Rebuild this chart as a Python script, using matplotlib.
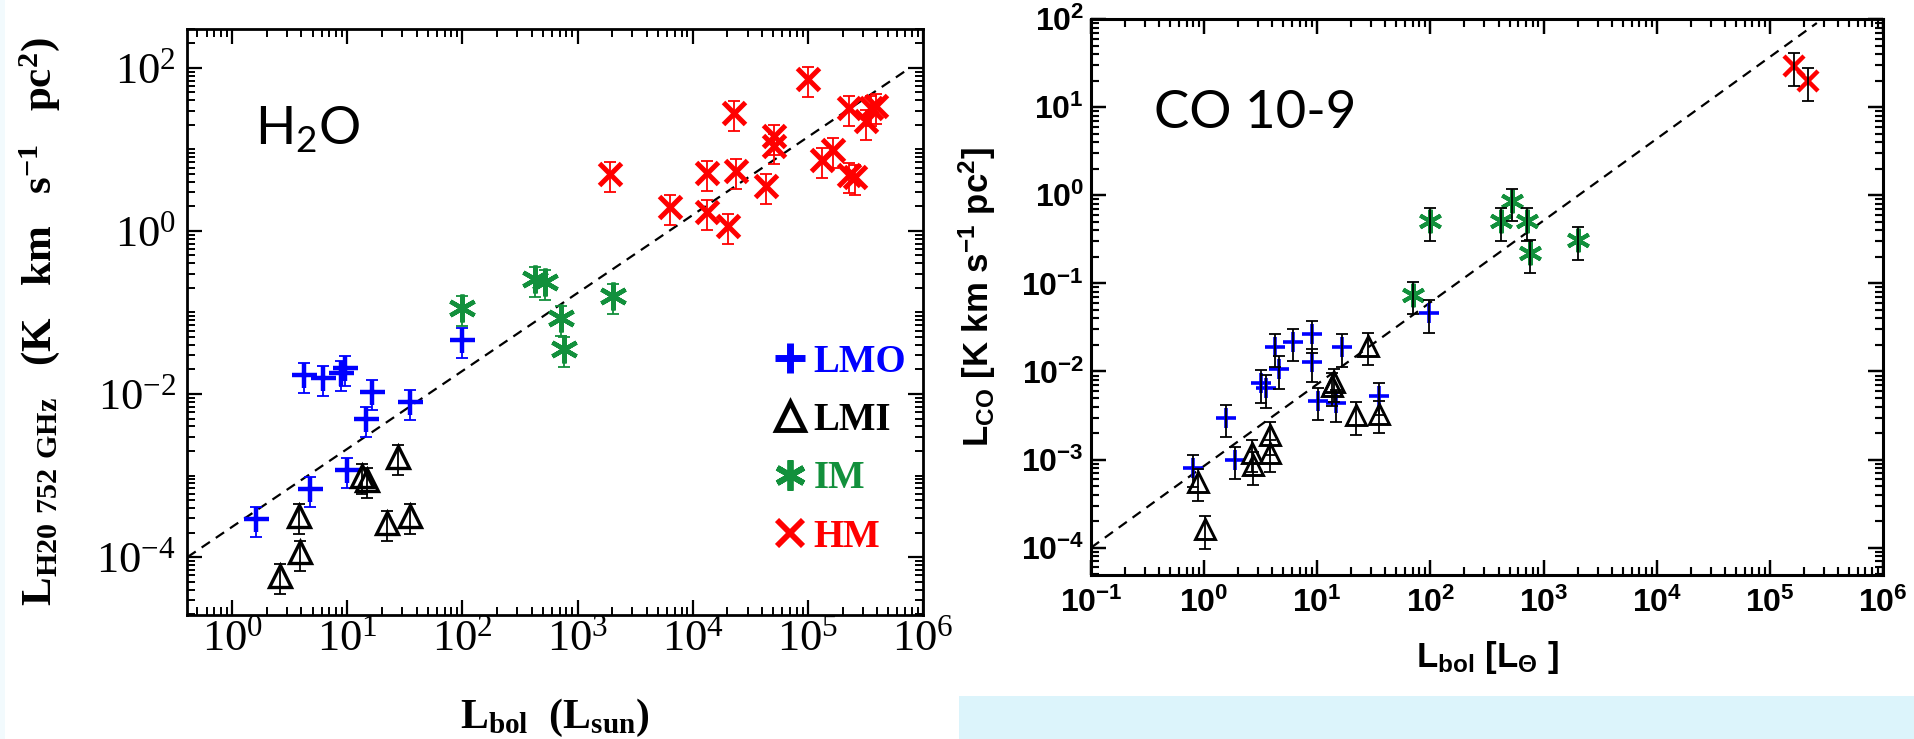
import numpy as np
import matplotlib.pyplot as plt
from matplotlib.lines import Line2D
from matplotlib.patches import Rectangle
from matplotlib.ticker import LogLocator, NullFormatter

plt.rcParams['mathtext.default'] = 'regular'

# H2O 752 GHz luminosity vs Lbol
h2o_lmo_lbol = [1.6, 4.75, 4.2, 6.2, 8.8, 9.5, 16.4, 14.5, 35, 10, 100]
h2o_lmo_lum = [2.9e-4, 6.9e-4, 0.017, 0.0157, 0.018, 0.021, 0.0107, 4.9e-3, 7.9e-3, 1.18e-3, 0.046]
h2o_lmi_lbol = [2.6, 3.9, 3.8, 13.5, 15, 27.5, 22, 35]
h2o_lmi_lum = [5.8e-5, 1.14e-4, 3.2e-4, 1.0e-3, 8.8e-4, 1.7e-3, 2.6e-4, 3.2e-4]
h2o_im_lbol = [100, 426, 525, 713, 759, 2026]
h2o_im_lum = [0.113, 0.257, 0.237, 0.085, 0.0357, 0.16]
h2o_hm_lbol = [1905, 6350, 13270, 13270, 20400, 23600, 23000, 43600, 50600, 50600,
               100700, 132000, 164000, 229000, 229000, 259000, 319000, 352000, 389000]
h2o_hm_lum = [4.95, 1.95, 1.7, 5.1, 1.14, 5.5, 28, 3.55, 14.4, 11,
              73, 7.4, 9.9, 32, 4.8, 4.6, 22, 32, 34]
h2o_fit_lbol = [0.41, 7.7e5]
h2o_fit_lum = [1.0e-4, 1.0e2]

# CO 10-9 luminosity vs Lbol
co_lmo_lbol = [0.79, 1.56, 1.89, 3.18, 3.5, 4.2, 4.6, 6.1, 8.9, 8.9, 10.1, 16.4, 14.7, 35, 97]
co_lmo_lum = [8.1e-4, 3.0e-3, 1.0e-3, 7.4e-3, 6.5e-3, 0.0189, 0.0106, 0.0217, 0.0267, 0.0128,
              4.66e-3, 0.0189, 4.4e-3, 5.3e-3, 0.046]
co_lmi_lbol = [0.89, 1.01, 2.64, 2.7, 3.83, 3.83, 14.1, 13.6, 21.9, 28, 35]
co_lmi_lum = [5.6e-4, 1.63e-4, 1.19e-3, 8.6e-4, 1.9e-3, 1.2e-3, 7.6e-3, 6.8e-3, 3.2e-3, 0.0195, 3.3e-3]
co_im_lbol = [69.5, 100, 423, 522, 711, 758, 2000]
co_im_lum = [0.074, 0.51, 0.51, 0.85, 0.51, 0.22, 0.31]
co_hm_lbol = [1.64e5, 2.16e5]
co_hm_lum = [29.3, 19.8]
co_fit_lbol = [0.1, 2.6e5]
co_fit_lum = [1.0e-4, 90]

rel_err = 0.4

h2o_xticks = [1e0, 1e1, 1e2, 1e3, 1e4, 1e5, 1e6]
h2o_xticklabels = ['$10^{0}$', '$10^{1}$', '$10^{2}$', '$10^{3}$', '$10^{4}$', '$10^{5}$', '$10^{6}$']
h2o_yticks = [1e-4, 1e-2, 1e0, 1e2]
h2o_yticklabels = ['$10^{-4}$', '$10^{-2}$', '$10^{0}$', '$10^{2}$']
co_xticks = [1e-1, 1e0, 1e1, 1e2, 1e3, 1e4, 1e5, 1e6]
co_xticklabels = ['$10^{-1}$', '$10^{0}$', '$10^{1}$', '$10^{2}$', '$10^{3}$', '$10^{4}$', '$10^{5}$', '$10^{6}$']
co_yticks = [1e-4, 1e-3, 1e-2, 1e-1, 1e0, 1e1, 1e2]
co_yticklabels = ['$10^{-4}$', '$10^{-3}$', '$10^{-2}$', '$10^{-1}$', '$10^{0}$', '$10^{1}$', '$10^{2}$']

legend_names = ['LMO', 'LMI', 'IM', 'HM']

blue = '#0000FF'
green = '#12903C'
red = '#FF0000'
serif = 'Liberation Serif'
sans = 'Liberation Sans'

asterisk = (6, 2, 0)
dashes = (0, (4.5, 3.2))


def group(ax, x, y, bar_color, bar_on_top, **mk):
    x = np.asarray(x)
    y = np.asarray(y)
    ax.errorbar(x, y, yerr=rel_err * y, fmt='none', ecolor=bar_color, elinewidth=1.3,
                capsize=4.5, capthick=1.3, zorder=4 if bar_on_top else 2)
    ax.plot(x, y, linestyle='none', zorder=3, **mk)


def frame(ax, lw, major, minor):
    ax.set_xscale('log')
    ax.set_yscale('log')
    for s in ax.spines.values():
        s.set_linewidth(lw)
    ax.tick_params(which='both', direction='in', top=True, right=True)
    ax.tick_params(which='major', length=major, width=lw * 0.8)
    ax.tick_params(which='minor', length=minor, width=lw * 0.7)
    ax.xaxis.set_minor_locator(LogLocator(base=10, subs=np.arange(1, 10), numticks=100))
    ax.yaxis.set_minor_locator(LogLocator(base=10, subs=np.arange(1, 10), numticks=100))
    ax.xaxis.set_minor_formatter(NullFormatter())
    ax.yaxis.set_minor_formatter(NullFormatter())


fig = plt.figure(figsize=(19.15, 7.39), dpi=100)
fig.add_artist(Rectangle((959 / 1915, 0), 1 - 959 / 1915, 43 / 739, transform=fig.transFigure,
                         facecolor='#DCF4FB', edgecolor='none', zorder=0))
fig.add_artist(Rectangle((0, 0), 5 / 1915, 1, transform=fig.transFigure,
                         facecolor='#F2FAFD', edgecolor='none', zorder=0))

# left: H2O
ax1 = fig.add_axes([0.0977, 0.1678, 0.3843, 0.7930])
frame(ax1, 2.0, 11, 5.5)
ax1.plot(h2o_fit_lbol, h2o_fit_lum, color='black', lw=1.6, linestyle=dashes, zorder=1)
group(ax1, h2o_lmo_lbol, h2o_lmo_lum, blue, False, marker='+', ms=18, mew=3.2, color=blue)
group(ax1, h2o_lmi_lbol, h2o_lmi_lum, 'black', False, marker='^', ms=16, mew=2.4,
      mfc='none', mec='black')
group(ax1, h2o_im_lbol, h2o_im_lum, green, False, marker=asterisk, ms=20, mew=3.2, color=green)
group(ax1, h2o_hm_lbol, h2o_hm_lum, red, False, marker='x', ms=16, mew=3.6, color=red)
ax1.set_xlim(0.407, 1e6)
ax1.set_ylim(1.95e-5, 300)
ax1.set_xticks(h2o_xticks, h2o_xticklabels, fontsize=32, family=serif)
ax1.set_yticks(h2o_yticks, h2o_yticklabels, fontsize=32, family=serif)
ax1.tick_params(axis='x', which='major', pad=3)
ax1.tick_params(axis='y', which='major', pad=8)
ax1.set_xlabel('L$_{bol}$  (L$_{sun}$)', fontsize=30, family=serif, fontweight='bold', va='top')
ax1.xaxis.set_label_coords(0.5, -0.14)
ax1.set_ylabel('L$_{H20\\ 752\\ GHz}$   (K   km   s$^{-1}$   pc$^{2}$)', fontsize=31,
               family=serif, fontweight='bold')
ax1.yaxis.set_label_coords(-0.17, 0.5)
ax1.text(0.092, 0.802, 'H$_2$O', transform=ax1.transAxes, family='Lato', fontsize=38,
         va='baseline', ha='left')

handles = [
    Line2D([], [], linestyle='none', marker='+', ms=21, mew=5, color=blue),
    Line2D([], [], linestyle='none', marker='^', ms=20, mew=3.5, mfc='none', mec='black'),
    Line2D([], [], linestyle='none', marker=asterisk, ms=22, mew=4.2, color=green),
    Line2D([], [], linestyle='none', marker='x', ms=19, mew=4.2, color=red),
]
ax1.legend(handles, legend_names, loc='upper left', bbox_to_anchor=(0.804, 0.463),
           frameon=False, borderpad=0, borderaxespad=0, handlelength=0.6, handletextpad=0.3,
           labelspacing=0.55, labelcolor=[blue, 'black', green, red],
           prop={'family': serif, 'weight': 'bold', 'size': 28})

# right: CO 10-9
ax2 = fig.add_axes([0.5697, 0.2219, 0.4136, 0.7524])
frame(ax2, 2.2, 11, 5.5)
ax2.plot(co_fit_lbol, co_fit_lum, color='black', lw=1.6, linestyle=dashes, zorder=1)
group(ax2, co_lmo_lbol, co_lmo_lum, 'black', True, marker='+', ms=15, mew=2.6, color=blue)
group(ax2, co_lmi_lbol, co_lmi_lum, 'black', True, marker='^', ms=14, mew=2.1,
      mfc='none', mec='black')
group(ax2, co_im_lbol, co_im_lum, 'black', True, marker=asterisk, ms=17, mew=2.9, color=green)
group(ax2, co_hm_lbol, co_hm_lum, 'black', True, marker='x', ms=14, mew=3.2, color=red)
ax2.set_xlim(0.1, 1e6)
ax2.set_ylim(4.9e-5, 100)
ax2.set_xticks(co_xticks, co_xticklabels, fontsize=23, family=sans, fontweight='bold')
ax2.set_yticks(co_yticks, co_yticklabels, fontsize=23, family=sans, fontweight='bold')
ax2.tick_params(axis='x', which='major', pad=9)
ax2.tick_params(axis='y', which='major', pad=5)
ax2.set_xlabel('L$_{bol}$ [L$_{\u0398}$ ]', fontsize=25, family=sans, fontweight='bold', va='top')
ax2.xaxis.set_label_coords(0.5, -0.115)
ax2.set_ylabel('L$_{CO}$ [K km s$^{-1}$ pc$^{2}$]', fontsize=25, family=sans, fontweight='bold')
ax2.yaxis.set_label_coords(-0.117, 0.5)
ax2.text(0.0795, 0.804, 'CO 10-9', transform=ax2.transAxes, family='Lato', fontsize=38,
         va='baseline', ha='left')

fig.savefig('out.png', dpi=100)
